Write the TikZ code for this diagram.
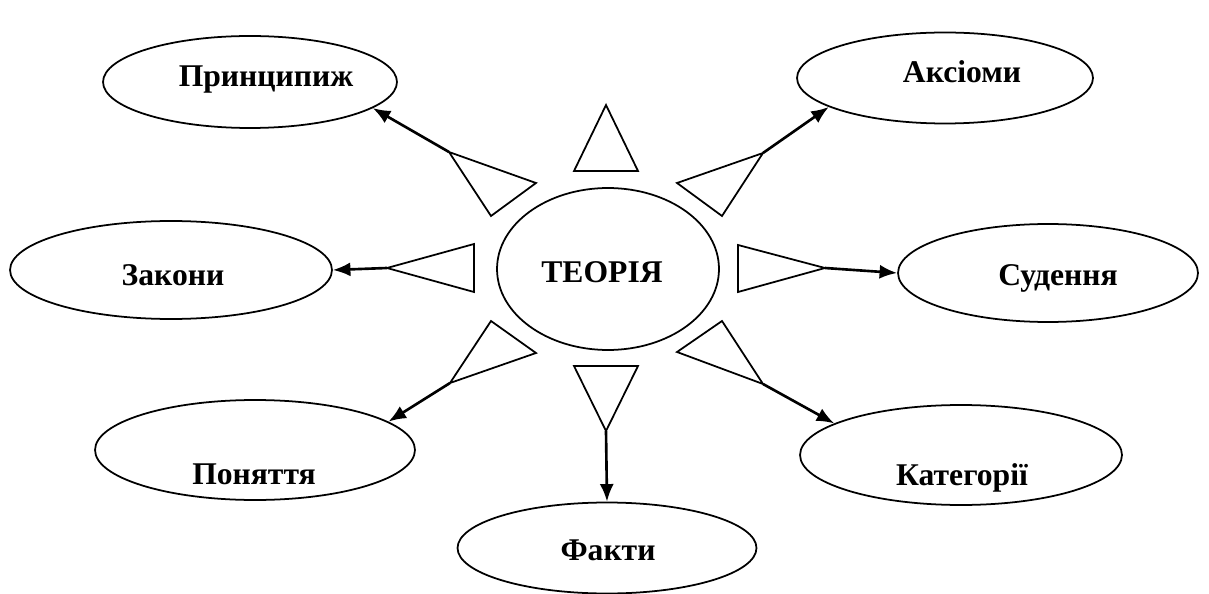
\documentclass[tikz,border=0pt]{standalone}
\usepackage{fontspec}
\setmainfont{Liberation Serif}
\usetikzlibrary{shapes.geometric,arrows.meta}

\begin{document}
\begin{tikzpicture}[x=0.02cm,y=-0.02cm,
    oval/.style={ellipse,draw,line width=1pt,inner sep=0pt},
    word/.style={anchor=base,inner sep=0pt,font=\fontsize{18}{20}\selectfont\bfseries},
    wedge/.style={draw,line width=1pt,line join=miter},
    link/.style={line width=1.5pt,-{Latex[length=10pt,width=8pt]}}]
  \useasboundingbox (0,0) rectangle (1209,594);

  % ellipses
  \node[oval,minimum width=4.44cm,minimum height=3.24cm] (teo)   at (608,269) {};
  \node[oval,minimum width=5.88cm,minimum height=1.84cm] (princ) at (250,82)  {};
  \node[oval,minimum width=5.92cm,minimum height=1.82cm] (aks)   at (945,78)  {};
  \node[oval,minimum width=6.44cm,minimum height=1.96cm] (zak)   at (171,270) {};
  \node[oval,minimum width=6.00cm,minimum height=1.96cm] (sud)   at (1048,273){};
  \node[oval,minimum width=6.40cm,minimum height=2.00cm] (pon)   at (255,450) {};
  \node[oval,minimum width=6.44cm,minimum height=2.00cm] (kat)   at (961,455) {};
  \node[oval,minimum width=5.98cm,minimum height=1.82cm] (fak)   at (607,548) {};

  % texts
  \node[word] (teoT)   at (602,283) {ТЕОРІЯ};
  \node[word] (princT) at (266,87)  {Принципиж};
  \node[word] (aksT)   at (962,83)  {Аксіоми};
  \node[word] (zakT)   at (173,286) {Закони};
  \node[word] (sudT)   at (1058,286){Судення};
  \node[word] (ponT)   at (254,484) {Поняття};
  \node[word] (katT)   at (962,485) {Категорії};
  \node[word] (fakT)   at (608,560) {Факти};

  % triangles
  \draw[wedge] (606,105) -- (638,171) -- (574,171) -- cycle;
  \draw[wedge] (449,152) coordinate (tipUL) -- (536,183) -- (491,216) -- cycle;
  \draw[wedge] (387,268) coordinate (tipL)  -- (474,244) -- (474,292) -- cycle;
  \draw[wedge] (763,153) coordinate (tipUR) -- (677,183) -- (722,216) -- cycle;
  \draw[wedge] (825,268) coordinate (tipR)  -- (738,245) -- (738,292) -- cycle;
  \draw[wedge] (450,383) coordinate (tipLL) -- (491,321) -- (536,353) -- cycle;
  \draw[wedge] (606,431) coordinate (tipB)  -- (574,366) -- (638,366) -- cycle;
  \draw[wedge] (763,384) coordinate (tipLR) -- (677,352) -- (722,321) -- cycle;

  % arrows
  \draw[link] (tipUL) -- (princ.-12);
  \draw[link] (tipL)  -- (zak.east);
  \draw[link] (tipUR) -- (aks.194);
  \draw[link] (tipR)  -- (sud.west);
  \draw[link] (tipLL) -- (pon.12);
  \draw[link] (tipB)  -- (fak.north);
  \draw[link] (tipLR) -- (kat.166);
\end{tikzpicture}
\end{document}
